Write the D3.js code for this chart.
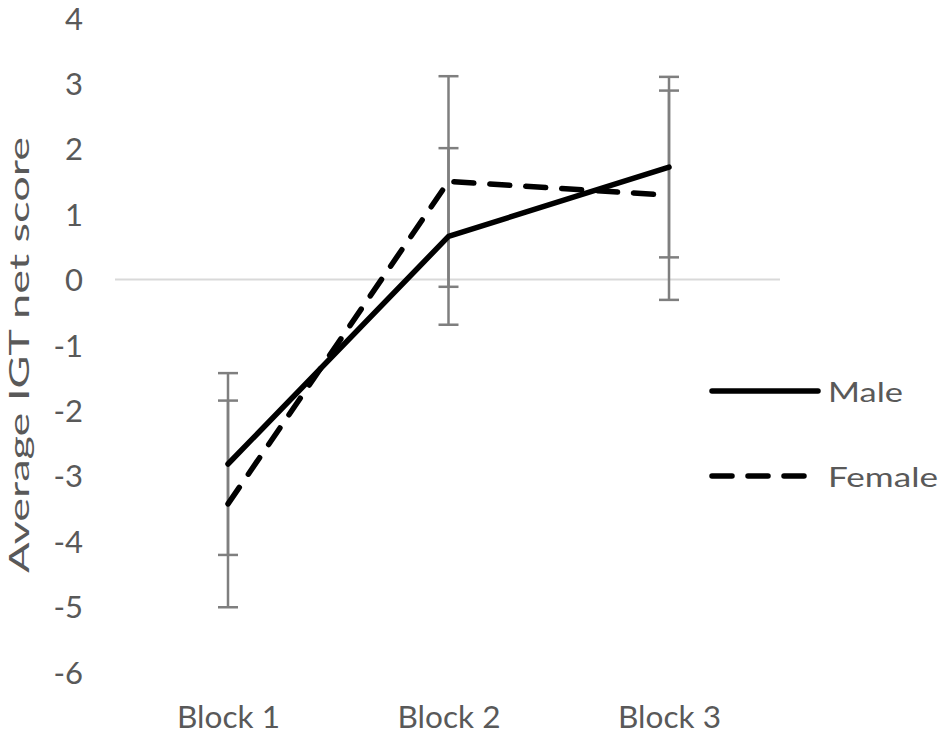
<!DOCTYPE html>
<html><head><meta charset="utf-8">
<script src="https://cdn.jsdelivr.net/npm/d3@7"></script>
<style>body{margin:0;background:#fff}text{font-family:Lato,"Open Sans",sans-serif;fill:#595959}</style>
</head><body><svg id="c" width="945" height="734"></svg>
<script>
const categories = ["Block 1","Block 2","Block 3"];
const seriesNames = ["Male","Female"];
const maleValues = [-2.82, 0.66, 1.72];
const maleErrors = [1.39, 1.35, 1.38];
const femaleValues = [-3.43, 1.5, 1.29];
const femaleErrors = [1.58, 1.61, 1.6];
const yTicks = [4,3,2,1,0,-1,-2,-3,-4,-5,-6];

const svg = d3.select("#c");
const x = d3.scalePoint().domain(categories).range([228, 669]);
const y = d3.scaleLinear().domain([-6, 4]).range([672, 18]);
const FONT = "Lato,'Open Sans',sans-serif";

// zero line
svg.append("line").attr("x1",115).attr("x2",780).attr("y1",y(0)).attr("y2",y(0))
  .attr("stroke","#d9d9d9").attr("stroke-width",2);

// y axis labels
const yAxis = d3.axisLeft(y).tickValues(yTicks).tickSize(0).tickPadding(0).tickFormat(d => String(d));
const ga = svg.append("g").attr("transform","translate(83,0)").call(yAxis);
ga.select(".domain").remove();
ga.selectAll("text").style("font-size","31px").attr("fill","#595959").style("font-family",FONT).attr("dy","0.36em");

// x axis labels
const xAxis = d3.axisBottom(x).tickSize(0).tickPadding(0);
const gx = svg.append("g").attr("transform","translate(0,728)").call(xAxis);
gx.select(".domain").remove();
gx.selectAll("text").style("font-size","31px").attr("fill","#595959").style("font-family",FONT)
  .attr("dy",null).attr("y",0).attr("textLength",103).attr("lengthAdjust","spacingAndGlyphs");

// y title
svg.append("text").attr("transform","translate(22,355) rotate(-90)").attr("text-anchor","middle")
  .attr("dominant-baseline","middle").style("font-size","27px")
  .attr("textLength",436).attr("lengthAdjust","spacingAndGlyphs").text("Average IGT net score");

const series = [
  {name:"Male", vals:maleValues, errs:maleErrors, dash:null, tl:75},
  {name:"Female", vals:femaleValues, errs:femaleErrors, dash:"20,16", tl:110}
];

// error bars
series.forEach(s=>{
  const g = svg.append("g").attr("stroke","#7f7f7f").attr("stroke-width",2.5);
  categories.forEach((c,i)=>{
    const cx = x(c), hi = y(s.vals[i]+s.errs[i]), lo = y(s.vals[i]-s.errs[i]);
    g.append("line").attr("x1",cx).attr("x2",cx).attr("y1",hi).attr("y2",lo);
    g.append("line").attr("x1",cx-10).attr("x2",cx+10).attr("y1",hi).attr("y2",hi);
    g.append("line").attr("x1",cx-10).attr("x2",cx+10).attr("y1",lo).attr("y2",lo);
  });
});

const line = d3.line().x((d,i)=>x(categories[i])).y(d=>y(d));
series.forEach(s=>{
  svg.append("path").datum(s.vals).attr("d",line).attr("fill","none").attr("stroke","#000")
    .attr("stroke-width",5.5).attr("stroke-linecap","round").attr("stroke-linejoin","round")
    .attr("stroke-dasharray",s.dash);
});

// legend
const lg = svg.append("g");
series.forEach((s,i)=>{
  const ly = 391 + i*85;
  lg.append("line").attr("x1",712).attr("x2",818).attr("y1",ly).attr("y2",ly).attr("stroke","#000")
    .attr("stroke-width",5.5).attr("stroke-linecap","round").attr("stroke-dasharray",s.dash);
  lg.append("text").attr("x",828).attr("y",ly).attr("dominant-baseline","central").style("font-size","27px")
    .attr("textLength",s.tl).attr("lengthAdjust","spacingAndGlyphs").text(s.name);
});
</script></body></html>
